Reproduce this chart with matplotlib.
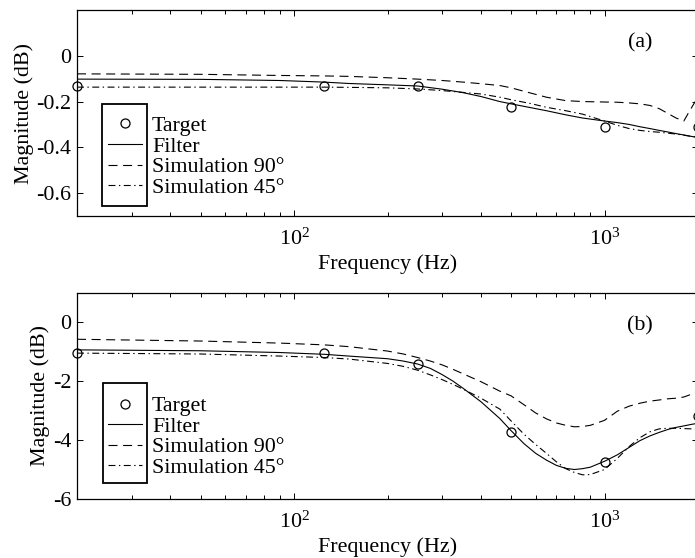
import matplotlib
matplotlib.use("Agg")
import matplotlib.pyplot as plt
from matplotlib.patches import Rectangle
from matplotlib.ticker import LogLocator, FixedLocator

plt.rcParams['font.family'] = ['Liberation Serif', 'DejaVu Serif']
plt.rcParams['mathtext.fontset'] = 'custom'
plt.rcParams['mathtext.rm'] = 'Liberation Serif'
plt.rcParams['mathtext.it'] = 'Liberation Serif:italic'
plt.rcParams['axes.unicode_minus'] = False
plt.rcParams['lines.scale_dashes'] = False

FS = 15.8

# ---- panel (a) ----
target_freq = [20, 125, 250, 500, 1000, 2000]
a_target = [-0.13, -0.134, -0.134, -0.222, -0.312, -0.312]

a_freq = [20, 50, 90, 125, 150, 200, 250, 300, 350, 400, 460, 500, 575, 650,
          750, 850, 1000, 1100, 1200, 1300, 1400, 1500, 1600, 1700, 1800, 1900, 2000]
a_filter = [-0.102, -0.103, -0.108, -0.115, -0.121, -0.127, -0.132, -0.146, -0.161,
            -0.178, -0.200, -0.210, -0.226, -0.240, -0.258, -0.272, -0.285, -0.292,
            -0.300, -0.310, -0.318, -0.326, -0.333, -0.340, -0.346, -0.352, -0.357]
a_sim90 = [-0.079, -0.081, -0.086, -0.088, -0.090, -0.096, -0.102, -0.108, -0.115,
           -0.122, -0.130, -0.140, -0.162, -0.181, -0.196, -0.200, -0.202, -0.203,
           -0.206, -0.210, -0.217, -0.231, -0.252, -0.272, -0.285, -0.230, -0.180]
a_sim45 = [-0.137, -0.137, -0.137, -0.137, -0.138, -0.140, -0.145, -0.152, -0.160,
           -0.167, -0.181, -0.192, -0.208, -0.225, -0.240, -0.255, -0.285, -0.304,
           -0.318, -0.326, -0.331, -0.334, -0.338, -0.342, -0.347, -0.352, -0.356]

# ---- panel (b) ----
b_target = [-1.05, -1.05, -1.42, -3.74, -4.74, -3.17]

b_freq = [20, 50, 90, 125, 150, 200, 225, 250, 275, 300, 325, 350, 400, 460, 500,
          550, 600, 650, 700, 750, 800, 850, 900, 1000, 1100, 1200, 1300, 1400,
          1500, 1600, 1700, 1800, 1900, 2000]
b_filter = [-0.94, -0.97, -1.03, -1.09, -1.15, -1.24, -1.32, -1.42, -1.57, -1.78,
            -2.00, -2.24, -2.70, -3.27, -3.68, -4.12, -4.45, -4.68, -4.86, -4.96,
            -5.00, -4.97, -4.92, -4.72, -4.50, -4.25, -4.02, -3.86, -3.74, -3.64,
            -3.57, -3.52, -3.47, -3.43]
b_sim90 = [-0.58, -0.64, -0.71, -0.77, -0.83, -0.98, -1.08, -1.20, -1.32, -1.45,
           -1.60, -1.75, -2.02, -2.34, -2.50, -2.80, -3.08, -3.28, -3.42, -3.50,
           -3.55, -3.54, -3.50, -3.33, -3.02, -2.85, -2.75, -2.68, -2.64, -2.60,
           -2.58, -2.54, -2.45, -2.33]
b_sim45 = [-1.05, -1.08, -1.15, -1.20, -1.25, -1.40, -1.50, -1.63, -1.79, -1.95,
           -2.11, -2.27, -2.58, -2.95, -3.35, -3.80, -4.15, -4.45, -4.74, -4.97,
           -5.10, -5.18, -5.17, -5.00, -4.62, -4.22, -3.92, -3.72, -3.62, -3.60,
           -3.60, -3.61, -3.62, -3.63]

labels = ['Target', 'Filter', 'Simulation 90°', 'Simulation 45°']

fig = plt.figure(figsize=(6.95, 5.58), dpi=100)
left = 77 / 695
width = (698 - 77) / 695
ax_a = fig.add_axes([left, 1 - 216 / 558, width, 206 / 558])
ax_b = fig.add_axes([left, 1 - 499 / 558, width, 206.3 / 558])

dash = (0, (6.5, 4.0))
dashdot = (0, (5.0, 2.5, 1.0, 2.5))


def draw(ax, freq, filt, s90, s45, tgt, ylim, yticks, ylabels, tag, rect, leg_anchor):
    ax.plot(target_freq, tgt, 'o', mfc='none', mec='black', ms=6.5, mew=0.9,
            label=labels[0], clip_on=False, zorder=5)
    ax.plot(freq, filt, '-', color='black', lw=0.8, label=labels[1])
    ax.plot(freq, s90, color='black', lw=0.8, linestyle=dash, label=labels[2])
    ax.plot(freq, s45, color='black', lw=0.8, linestyle=dashdot, label=labels[3])
    ax.set_xscale('log')
    ax.set_xlim(20, 2000)
    ax.set_ylim(*ylim)
    ax.yaxis.set_major_locator(FixedLocator(yticks))
    ax.set_yticklabels(ylabels)
    ax.xaxis.set_major_locator(LogLocator(base=10, numticks=10))
    ax.xaxis.set_minor_locator(LogLocator(base=10, subs=range(2, 10), numticks=20))
    ax.tick_params(which='both', direction='in', top=True, right=True,
                   labelsize=FS, width=0.7, colors='black')
    ax.tick_params(which='major', length=4.5)
    ax.tick_params(which='minor', length=3)
    ax.tick_params(axis='x', which='major', pad=9)
    ax.tick_params(axis='y', which='major', pad=4)
    for s in ax.spines.values():
        s.set_linewidth(0.9)
    ax.set_xlabel('Frequency (Hz)', fontsize=FS, labelpad=3.5)
    ax.set_ylabel('Magnitude (dB)', fontsize=FS, labelpad=2)
    ax.text(0.907, 0.84, tag, transform=ax.transAxes, fontsize=FS,
            ha='center', va='center')
    ax.legend(loc='upper left', bbox_to_anchor=leg_anchor, frameon=False,
              fontsize=FS, handlelength=1.55, handletextpad=0.45,
              labelspacing=0.01, borderpad=0, borderaxespad=0)
    ax.add_patch(Rectangle(rect[:2], rect[2], rect[3], transform=ax.transAxes,
                           fill=False, lw=1.3, ec='black', zorder=6))


draw(ax_a, a_freq, a_filter, a_sim90, a_sim45, a_target, (-0.7, 0.2),
     [-0.6, -0.4, -0.2, 0, 0.2], ['-0.6', '-0.4', '-0.2', '0', ''],
     '(a)', (0.040, 0.049, 0.072, 0.495), (0.050, 0.487))
draw(ax_b, b_freq, b_filter, b_sim90, b_sim45, b_target, (-6, 1),
     [-6, -4, -2, 0], ['-6', '-4', '-2', '0'],
     '(b)', (0.042, 0.076, 0.071, 0.488), (0.050, 0.50))

fig.savefig('out.png', dpi=100)
